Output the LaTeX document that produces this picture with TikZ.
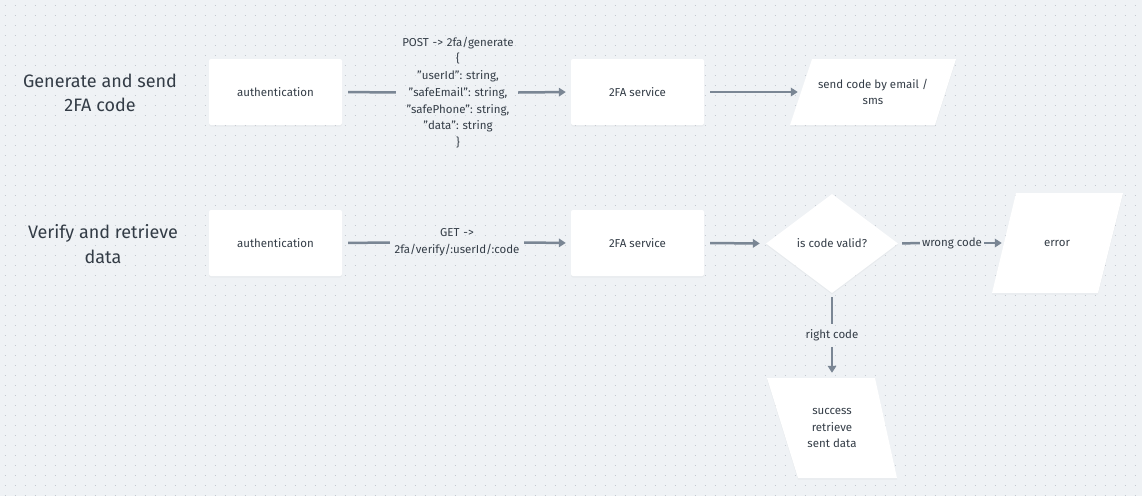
\documentclass[tikz,border=0pt]{standalone}
\usepackage{fontspec}
\setmainfont{Fira Sans}
\usetikzlibrary{shapes.geometric,arrows.meta,shadows}
\definecolor{bg}{HTML}{EFF2F5}
\definecolor{dotc}{HTML}{C3C9D0}
\definecolor{linec}{HTML}{7A8694}
\definecolor{txt}{HTML}{343D47}
\definecolor{head}{HTML}{333C46}
\tikzset{
  box/.style={rectangle, fill=white, rounded corners=2pt, minimum width=133pt, minimum height=66pt,
    text=txt, font=\fontsize{11.5}{13}\selectfont,
    drop shadow={opacity=0.06, shadow xshift=0pt, shadow yshift=-1.5pt}},
  heading/.style={text=head, font=\fontsize{18}{24.5}\selectfont, align=center},
  lbl/.style={text=txt, font=\fontsize{11.5}{16.7}\selectfont, align=center, inner sep=0pt},
  ghost/.style={text=txt, font=\fontsize{11.5}{16.5}\selectfont, align=center, inner sep=0pt},
  conn/.style={draw=linec, line width=2.5pt},
  arr/.style={conn, -{Triangle[length=7pt,width=8.5pt]}},
  shape fill/.style={fill=white, drop shadow={opacity=0.06, shadow xshift=0pt, shadow yshift=-1.5pt}}
}
\begin{document}
\frenchspacing
\begin{tikzpicture}[x=1pt,y=-1pt]
\fill[bg] (0,0) rectangle (1142,496);
\useasboundingbox (0,0) rectangle (1142,496);
\foreach \yy in {5,15,...,495}
  \draw[dotc, line width=1pt, dash pattern=on 1pt off 9pt] (4.5,\yy) -- (1142,\yy);

% headings
\node[heading] (h1) at (100,93) {Generate and send\\2FA code};
\node[heading] (h2) at (103,244) {Verify and retrieve\\data};

% row 1
\node[box] (auth1) at (275.5,92) {authentication};
\node[box] (svc1) at (637.5,92) {2FA service};
\node[lbl, text width=120pt] (post) at (458,92.5) {POST -> 2fa/generate\\\{\\"userId": string,\\"safeEmail": string,\\"safePhone": string,\\"data": string\\\}};
\fill[shape fill] (812,59) -- (956,59) -- (935,125) -- (790,125) -- cycle;
\node[ghost, minimum width=144pt, minimum height=66pt] (send) at (873,92) {send code by email /\\sms};

\draw[conn, shorten <=6pt, shorten >=2pt] (auth1.east) -- (post.west);
\draw[arr, shorten <=0pt, shorten >=5pt] (post.east) -- (svc1.west);
\draw[arr, shorten <=6pt, shorten >=3pt] (svc1.east) -- (send.west);

% row 2
\node[box] (auth2) at (275.5,243) {authentication};
\node[box] (svc2) at (637.5,243) {2FA service};
\node[lbl, text width=130pt] (get) at (457,242.5) {GET ->\\2fa/verify/:userId/:code};
\node[diamond, fill=white, minimum width=132pt, minimum height=99pt, inner sep=0pt, text=txt,
      font=\fontsize{11.5}{13}\selectfont,
      drop shadow={opacity=0.06, shadow xshift=0pt, shadow yshift=-1.5pt}] (valid) at (832,243.5) {is code valid?};
\fill[shape fill] (1016,193) -- (1123,193) -- (1098,293) -- (992,293) -- cycle;
\node[ghost, minimum width=106pt, minimum height=100pt] (error) at (1057,243) {error};
\fill[shape fill] (767,378) -- (875,378) -- (897,478) -- (798,478) -- cycle;
\node[ghost, minimum width=100pt, minimum height=100pt] (success) at (832,428) {success\\retrieve\\sent data};
\node[lbl] (wrong) at (952,243) {wrong code};
\node[lbl] (right) at (832,335) {right code};

\draw[conn, shorten <=6pt, shorten >=2pt] (auth2.east) -- (get.west);
\draw[arr, shorten <=2pt, shorten >=5pt] (get.east) -- (svc2.west);
\draw[arr, shorten <=6pt, shorten >=6pt] (svc2.east) -- (valid.west);
\draw[conn, shorten <=4pt, shorten >=2pt] (valid.east) -- (wrong.west);
\draw[arr, shorten <=2pt, shorten >=2pt] (wrong.east) -- (error.west);
\draw[conn, shorten <=4pt, shorten >=5pt] (valid.south) -- (right.north);
\draw[arr, shorten <=6pt, shorten >=5pt] (right.south) -- (success.north);
\end{tikzpicture}
\end{document}
